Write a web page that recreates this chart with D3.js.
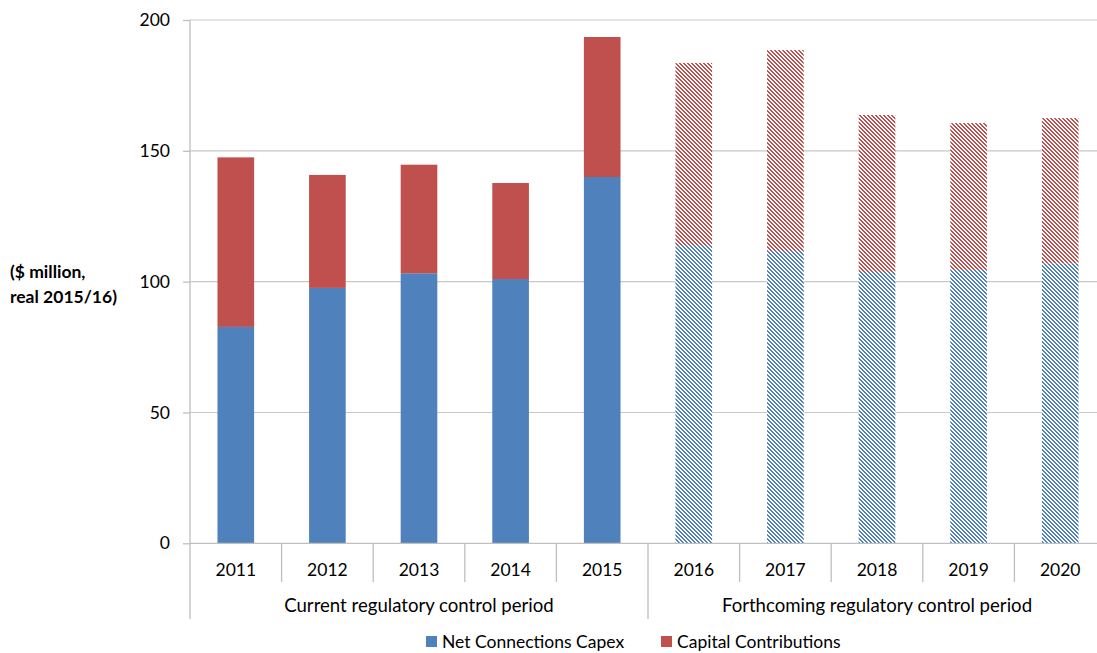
<!DOCTYPE html>
<html>
<head>
<meta charset="utf-8">
<script src="https://cdn.jsdelivr.net/npm/d3@7"></script>
<style>
  html, body { margin: 0; padding: 0; background: #fff; }
  svg { display: block; font-family: Lato, "Open Sans", sans-serif; }
</style>
</head>
<body>
<svg id="chart" width="1097" height="653"></svg>
<script>
// Connections capex by year, $ million real 2015/16
const years = ["2011", "2012", "2013", "2014", "2015", "2016", "2017", "2018", "2019", "2020"];
const netCapex = [82.7, 97.6, 103.2, 101.0, 140.0, 114.0, 111.7, 103.7, 104.5, 107.0];
const capitalContributions = [64.8, 43.2, 41.5, 36.7, 53.5, 69.6, 76.8, 60.0, 56.1, 55.5];
const forecastYears = ["2016", "2017", "2018", "2019", "2020"];
const periods = [
  { label: "Current regulatory control period", from: "2011", to: "2015" },
  { label: "Forthcoming regulatory control period", from: "2016", to: "2020" }
];
const yTicks = [0, 50, 100, 150, 200];
const seriesNames = ["Net Connections Capex", "Capital Contributions"];
const seriesColors = ["#4F81BD", "#C0504D"];

const svg = d3.select("#chart");
const margin = { left: 190, right: -9, top: 20 };
const plotBottom = 543.3;
const fontSize = 17.5;
const axisGrey = "#BFBFBF";

const x = d3.scaleBand()
  .domain(years)
  .range([margin.left, 1097 - margin.right])
  .paddingInner(0.6)
  .paddingOuter(0.3);
const xEdge = d3.scaleBand().domain(years).range([margin.left, 1097 - margin.right]);

const y = d3.scaleLinear().domain([0, 200]).range([plotBottom, margin.top]);

// Pixel-stepped diagonal hatch for forecast years (2px stripe, 4px repeat)
const defs = svg.append("defs");
seriesColors.forEach((c, i) => {
  const p = defs.append("pattern")
    .attr("id", "hatch" + i)
    .attr("patternUnits", "userSpaceOnUse")
    .attr("width", 4).attr("height", 4);
  p.append("rect").attr("width", 4).attr("height", 4).attr("fill", "#fff");
  const cells = [];
  for (let r = 0; r < 4; r++) {
    cells.push([r, r % 4], [r, (r + 1) % 4]);
  }
  p.selectAll("rect.px")
    .data(cells)
    .join("rect")
    .attr("class", "px")
    .attr("x", d => d[1]).attr("y", d => d[0])
    .attr("width", 1).attr("height", 1)
    .attr("fill", c)
    .attr("shape-rendering", "crispEdges");
});

// Gridlines
svg.append("g")
  .selectAll("line")
  .data(yTicks.filter(d => d > 0))
  .join("line")
  .attr("x1", margin.left).attr("x2", 1097)
  .attr("y1", d => y(d)).attr("y2", d => y(d))
  .attr("stroke", "#C8C8C8").attr("stroke-width", 1.2);

// Stacked bars
const stackData = years.map((yr, i) => ({ year: yr, net: netCapex[i], cc: capitalContributions[i] }));
const stacked = d3.stack().keys(["net", "cc"])(stackData);

svg.append("g")
  .selectAll("g")
  .data(stacked)
  .join("g")
  .each(function (layer, li) {
    d3.select(this).selectAll("rect")
      .data(layer)
      .join("rect")
      .attr("x", d => x(d.data.year))
      .attr("width", x.bandwidth())
      .attr("y", d => y(d[1]))
      .attr("height", d => y(d[0]) - y(d[1]))
      .attr("fill", d => forecastYears.includes(d.data.year) ? `url(#hatch${li})` : seriesColors[li]);
  });

// Y axis
const yAxis = d3.axisLeft(y).tickValues(yTicks).tickSize(7).tickPadding(13);
const gy = svg.append("g").attr("transform", `translate(${margin.left},0)`).call(yAxis);
gy.select(".domain").remove();
gy.selectAll(".tick line").attr("stroke", axisGrey).attr("stroke-width", 1.3);
gy.selectAll(".tick text").attr("font-size", fontSize).attr("fill", "#000")
  .attr("font-family", "Lato, 'Open Sans', sans-serif");

svg.append("line")
  .attr("x1", margin.left).attr("x2", margin.left)
  .attr("y1", margin.top).attr("y2", 619)
  .attr("stroke", axisGrey).attr("stroke-width", 1.3);

// X axis baseline
svg.append("line")
  .attr("x1", margin.left).attr("x2", 1097)
  .attr("y1", plotBottom).attr("y2", plotBottom)
  .attr("stroke", axisGrey).attr("stroke-width", 1.3);

// Category separators
const groupStarts = periods.slice(1).map(p => p.from);
svg.append("g")
  .selectAll("line")
  .data(years.slice(1))
  .join("line")
  .attr("x1", d => xEdge(d)).attr("x2", d => xEdge(d))
  .attr("y1", plotBottom)
  .attr("y2", d => groupStarts.includes(d) ? 619 : 582)
  .attr("stroke", axisGrey).attr("stroke-width", 1.3);

// Year labels
svg.append("g")
  .selectAll("text")
  .data(years)
  .join("text")
  .attr("x", d => xEdge(d) + xEdge.bandwidth() / 2)
  .attr("y", 576)
  .attr("text-anchor", "middle")
  .attr("font-size", fontSize)
  .text(d => d);

// Period labels
svg.append("g")
  .selectAll("text")
  .data(periods)
  .join("text")
  .attr("x", d => (xEdge(d.from) + xEdge(d.to) + xEdge.bandwidth()) / 2)
  .attr("y", 612)
  .attr("text-anchor", "middle")
  .attr("font-size", 18.6)
  .text(d => d.label);

// Y axis title
const yt = svg.append("text")
  .attr("font-size", 17.5)
  .attr("font-weight", "bold");
yt.append("tspan").attr("x", 10).attr("y", 278).text("($ million,");
yt.append("tspan").attr("x", 10).attr("y", 303).text("real 2015/16)");

// Legend
const legendX = [426, 661];
const legend = svg.append("g")
  .selectAll("g")
  .data(seriesNames)
  .join("g")
  .attr("transform", (d, i) => `translate(${legendX[i]},636)`);
legend.append("rect").attr("width", 11).attr("height", 11).attr("fill", (d, i) => seriesColors[i]);
legend.append("text").attr("x", 16).attr("y", 11.5).attr("font-size", fontSize).text(d => d);
</script>
</body>
</html>
